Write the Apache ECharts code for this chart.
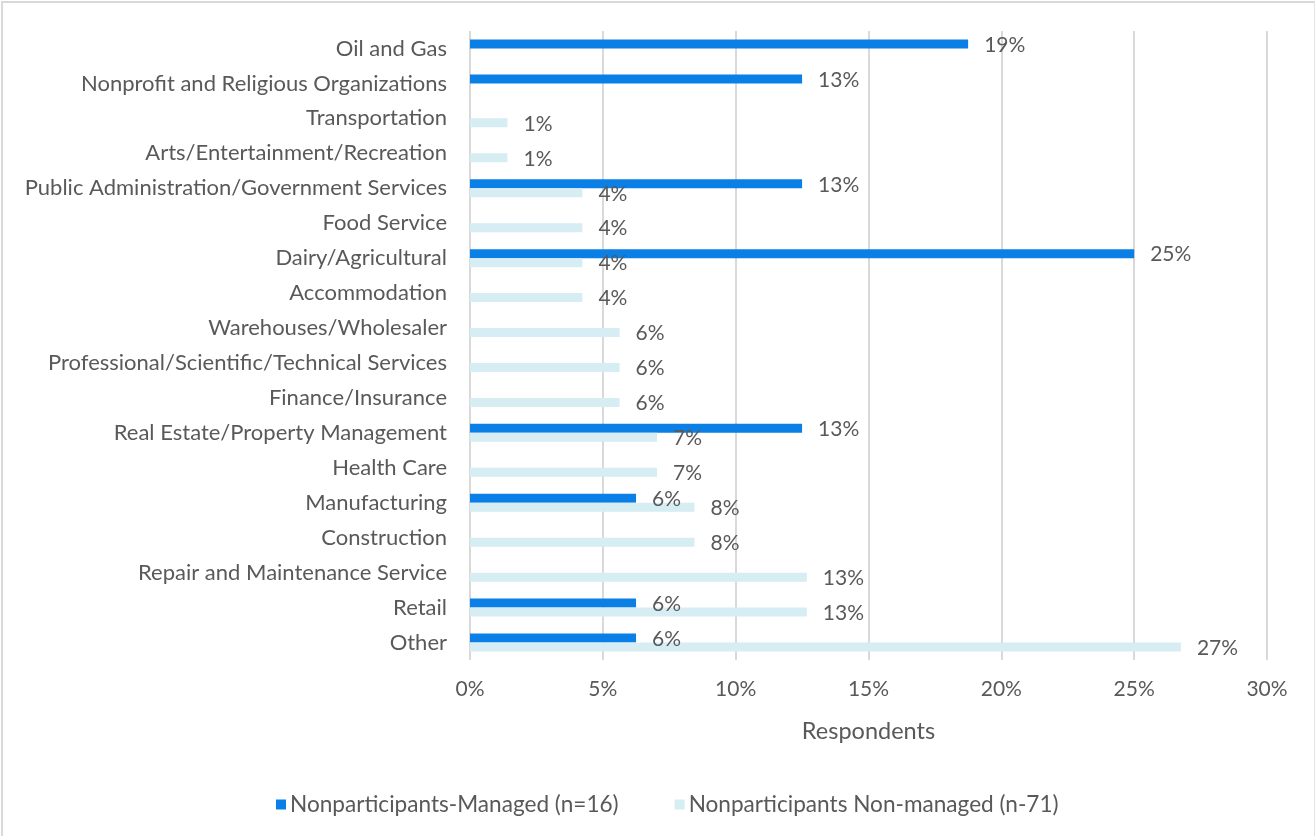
<!DOCTYPE html>
<html>
<head>
<meta charset="utf-8">
<script src="https://cdn.jsdelivr.net/npm/echarts@6/dist/echarts.min.js"></script>
<style>
  html, body { margin: 0; padding: 0; background: #ffffff; }
  #chart { position: absolute; left: 0; top: 0; width: 1316px; height: 836px; }
  #frame { position: absolute; left: 1px; top: 1px; width: 1311px; height: 836px; border-left: 2px solid #d9d9d9; border-top: 2px solid #d9d9d9; border-right: 1px solid #e4e4e4; pointer-events: none; }
</style>
</head>
<body>
<div id="chart"></div>
<div id="frame"></div>
<script>
// Industry categories, listed top to bottom
const categories = [
  'Oil and Gas',
  'Nonprofit and Religious Organizations',
  'Transportation',
  'Arts/Entertainment/Recreation',
  'Public Administration/Government Services',
  'Food Service',
  'Dairy/Agricultural',
  'Accommodation',
  'Warehouses/Wholesaler',
  'Professional/Scientific/Technical Services',
  'Finance/Insurance',
  'Real Estate/Property Management',
  'Health Care',
  'Manufacturing',
  'Construction',
  'Repair and Maintenance Service',
  'Retail',
  'Other'
];

// Share of respondents (%), null where a group has no respondents
const managed = [18.75, 12.5, null, null, 12.5, null, 25, null, null, null, null, 12.5, null, 6.25, null, null, 6.25, 6.25];
const nonManaged = [null, null, 1.41, 1.41, 4.23, 4.23, 4.23, 4.23, 5.63, 5.63, 5.63, 7.04, 7.04, 8.45, 8.45, 12.68, 12.68, 26.76];

const xTicks = [0, 5, 10, 15, 20, 25, 30];
const seriesNames = ['Nonparticipants-Managed (n=16)', 'Nonparticipants Non-managed (n-71)'];

const FONT = 'Lato';
const GREY = '#595959';

const labelOpt = {
  show: true,
  position: 'right',
  distance: 16,
  offset: [0, 1],
  color: GREY,
  fontFamily: FONT,
  fontSize: 21,
  formatter: p => Math.round(p.value) + '%'
};

const chart = echarts.init(document.getElementById('chart'), null, { renderer: 'canvas' });
chart.setOption({
  animation: false,
  backgroundColor: '#ffffff',
  textStyle: { fontFamily: FONT },
  grid: { left: 470, right: 49, top: 31, bottom: 176, containLabel: false },
  legend: {
    top: 788,
    left: 271,
    itemWidth: 10,
    itemHeight: 10,
    itemGap: 56,
    icon: 'rect',
    textStyle: { color: GREY, fontFamily: FONT, fontSize: 22.6, padding: [0, 0, 0, -1] },
    data: seriesNames
  },
  xAxis: {
    type: 'value',
    min: xTicks[0],
    max: xTicks[xTicks.length - 1],
    interval: 5,
    name: 'Respondents',
    nameLocation: 'middle',
    nameGap: 59,
    nameTextStyle: { color: GREY, fontFamily: FONT, fontSize: 23.5 },
    axisLine: { show: false },
    axisTick: { show: false },
    axisLabel: { color: GREY, fontFamily: FONT, fontSize: 21, margin: 19, formatter: v => v + '%' },
    splitLine: { show: true, lineStyle: { color: '#d9d9d9', width: 2 } }
  },
  yAxis: {
    type: 'category',
    inverse: true,
    data: categories,
    axisLine: { show: false },
    axisTick: { show: false },
    axisLabel: { color: GREY, fontFamily: FONT, fontSize: 22, margin: 23 },
    splitLine: { show: false }
  },
  series: [
    {
      name: seriesNames[0],
      type: 'bar',
      data: managed,
      barWidth: 9,
      barGap: '0%',
      itemStyle: { color: '#0a7fe6' },
      label: labelOpt
    },
    {
      name: seriesNames[1],
      type: 'bar',
      data: nonManaged,
      barWidth: 9,
      barGap: '0%',
      itemStyle: { color: '#d6edf3' },
      label: labelOpt
    }
  ]
});
</script>
</body>
</html>
